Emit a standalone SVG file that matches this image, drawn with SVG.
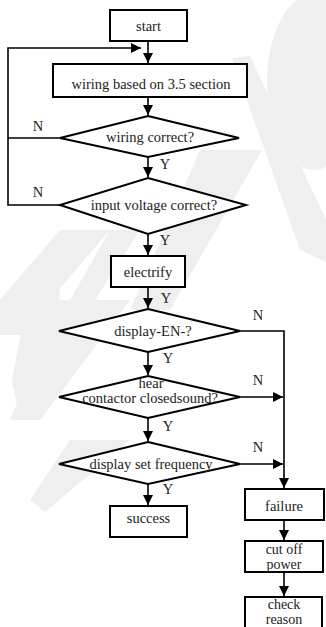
<svg xmlns="http://www.w3.org/2000/svg" width="326" height="627" viewBox="0 0 326 627">
<defs>
<marker id="ah" markerUnits="userSpaceOnUse" markerWidth="12" markerHeight="12" refX="10" refY="5" orient="auto">
<path d="M0,0 L10,5 L0,10 Z" fill="#000"/>
</marker>
<style>
.box{fill:#fff;stroke:#000;stroke-width:2}
.dia{fill:#fff;stroke:#000;stroke-width:2}
.ln{fill:none;stroke:#000;stroke-width:1.6}
.ar{fill:none;stroke:#000;stroke-width:1.6;marker-end:url(#ah)}
text{font-family:"Liberation Serif","Times New Roman",serif;font-size:14.5px;fill:#222;text-anchor:middle}
.sm{font-size:14px}
.wm{fill:#efefef}
</style>
</defs>
<rect width="326" height="627" fill="#fff"/>
<g id="watermark">
<ellipse class="wm" cx="314" cy="82" rx="47" ry="88"/>
<polygon class="wm" points="232,58 250,56 326,220 326,262 300,250"/>
<polygon class="wm" points="200,150 262,150 170,310 130,310"/>
<polygon class="wm" points="60,230 110,230 20,335 0,335 0,300"/>
<polygon class="wm" points="110,230 140,230 95,300 70,300"/>
<polygon class="wm" points="30,285 60,285 55,380 20,420 12,380"/>
<polygon class="wm" points="60,300 130,300 40,420 10,420"/>
<polygon class="wm" points="70,440 130,440 45,512 30,500"/>
</g>
<g id="connectors">
<path class="ar" d="M148,41 V63"/>
<path class="ar" d="M148,97 V115"/>
<path class="ar" d="M148,157 V177"/>
<path class="ar" d="M148,234 V255"/>
<path class="ar" d="M148,287 V308"/>
<path class="ar" d="M148,352 V375"/>
<path class="ar" d="M148,418 V441"/>
<path class="ar" d="M148,484 V505"/>
<path class="ln" d="M60,138 H8"/>
<path class="ar" d="M60,205 H8 V48 H141"/>
<path class="ar" d="M240,331 H284 V488"/>
<path class="ar" d="M240,397 H283"/>
<path class="ar" d="M240,464 H283"/>
<path class="ar" d="M284,520 V540"/>
<path class="ar" d="M284,572 V596"/>
<text x="38" y="131">N</text>
<text x="38" y="197">N</text>
<text x="165" y="169">Y</text>
<text x="165" y="245">Y</text>
<text x="166" y="303">Y</text>
<text x="168" y="363">Y</text>
<text x="168" y="431">Y</text>
<text x="168" y="494">Y</text>
<text x="258" y="320">N</text>
<text x="258" y="385">N</text>
<text x="258" y="452">N</text>
</g>
<g id="start">
<rect class="box" x="110" y="10" width="77" height="31"/>
<text x="148.5" y="31">start</text>
</g>
<g id="wiring">
<rect class="box" x="53" y="64" width="194" height="33"/>
<text x="151" y="89">wiring based on 3.5 section</text>
</g>
<g id="wiringCorrect">
<polygon class="dia" points="148,116 239,138 148,157 60,138"/>
<text x="150" y="142">wiring correct?</text>
</g>
<g id="voltageCorrect">
<polygon class="dia" points="148,178 246,205 148,234 60,205"/>
<text x="154" y="210">input voltage correct?</text>
</g>
<g id="electrify">
<rect class="box" x="111" y="256" width="74" height="31"/>
<text x="148" y="277">electrify</text>
</g>
<g id="displayEN">
<polygon class="dia" points="148,309 240,331 148,352 59,331"/>
<text x="153" y="336">display-EN-?</text>
</g>
<g id="hearContactor">
<polygon class="dia" points="148,376 240,397 148,418 59,397"/>
<text x="151" y="388">hear</text>
<text x="150" y="403">contactor closedsound?</text>
</g>
<g id="displayFreq">
<polygon class="dia" points="148,442 240,464 148,484 59,464"/>
<text x="151" y="469">display set frequency</text>
</g>
<g id="success">
<rect class="box" x="110" y="506" width="77" height="31"/>
<text x="148.5" y="523">success</text>
</g>
<g id="failure">
<rect class="box" x="245" y="489" width="79" height="31"/>
<text x="284" y="511">failure</text>
</g>
<g id="cutOff">
<rect class="box" x="245" y="541" width="78" height="31"/>
<text class="sm" x="284" y="554">cut off</text>
<text class="sm" x="284" y="569">power</text>
</g>
<g id="checkReason">
<rect class="box" x="245" y="597" width="77" height="36"/>
<text class="sm" x="284" y="609">check</text>
<text class="sm" x="284" y="624">reason</text>
</g>
</svg>
